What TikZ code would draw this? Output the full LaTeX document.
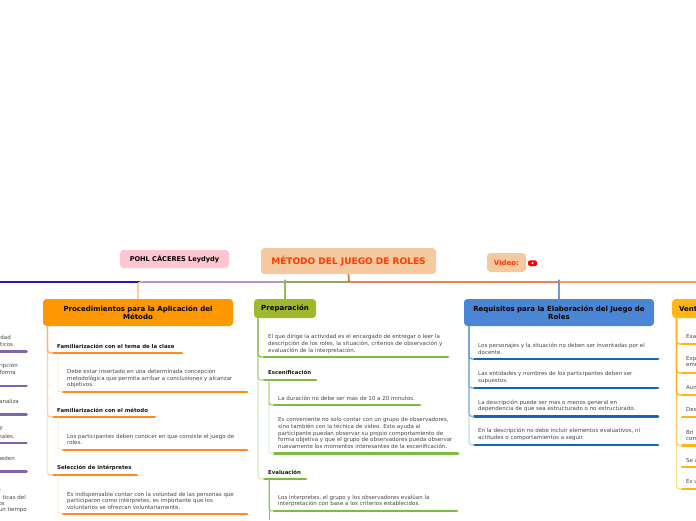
\documentclass[tikz,border=0pt]{standalone}
\usepackage{fontspec}
\setmainfont{DejaVu Sans}
\definecolor{ttl}{HTML}{F5C9A0}
\definecolor{ttxt}{HTML}{FF3D00}
\definecolor{pinkb}{HTML}{FFC6D2}
\definecolor{orgb}{HTML}{FF9800}
\definecolor{orgt}{HTML}{FFB266}
\definecolor{orgp}{HTML}{FFE0C2}
\definecolor{orgbar}{HTML}{FF8C1A}
\definecolor{grnb}{HTML}{A0B82E}
\definecolor{grnt}{HTML}{8CC152}
\definecolor{grnp}{HTML}{D5EABD}
\definecolor{grnbar}{HTML}{7DBB42}
\definecolor{blub}{HTML}{4A86D4}
\definecolor{blut}{HTML}{6C9BD2}
\definecolor{blup}{HTML}{C5D8EE}
\definecolor{blubar}{HTML}{1565B0}
\definecolor{ambb}{HTML}{FFB514}
\definecolor{ambp}{HTML}{FFE08F}
\definecolor{purbar}{HTML}{7E65AE}
\tikzset{
  x=1pt,y=-1pt,
  txt/.style={anchor=west,align=left,inner sep=0pt,text=black!72,font=\fontsize{5.5}{6.55}\selectfont},
  frag/.style={anchor=east,inner sep=0pt,text=black!72,font=\fontsize{5.5}{6.55}\selectfont},
  lbl/.style={anchor=west,inner sep=0pt,text=black!90,font=\fontsize{5.4}{6.55}\selectfont\bfseries},
  hd/.style={rounded corners=3.5pt,inner sep=0pt,align=center,text=black,font=\fontsize{7}{8}\selectfont\bfseries},
  barl/.style={line width=2.6pt,line cap=round},
  stem/.style={line width=1.1pt,rounded corners=2.5pt},
  trunk/.style={line width=1.3pt,rounded corners=3pt},
  sub/.style={line width=.9pt,rounded corners=2.5pt},
}
\newcommand{\barline}[5]{\coordinate (#1a) at (#3,#5);\coordinate (#1b) at (#4,#5);\draw[barl,#2] (#1a) -- (#1b);}
\begin{document}
\begin{tikzpicture}
\useasboundingbox (0,0) rectangle (696,520);
\fill[white] (0,0) rectangle (696,520);
\begin{scope}
\clip (0,0) rectangle (696,520);
% main boxes
\node[hd,fill=ttl,minimum width=175pt,minimum height=26pt,text=ttxt,font=\fontsize{9}{10}\selectfont\bfseries] (main) at (348.5,261) {MÉTODO DEL JUEGO DE ROLES};
\node[hd,fill=pinkb,minimum width=109pt,minimum height=18pt,font=\fontsize{6.6}{8}\selectfont\bfseries] (pohl) at (174.5,259) {POHL CÁCERES Leydydy};
\node[hd,fill=ttl,minimum width=39pt,minimum height=19pt,text=ttxt] (video) at (506.5,262.5) {Video:};
\node[hd,fill=orgb,minimum width=190pt,minimum height=27pt] (proc) at (138,312.5) {Procedimientos para la Aplicación del\\Método};
\node[hd,fill=grnb,minimum width=62pt,minimum height=19pt] (prep) at (285,308.5) {Preparación};
\node[hd,fill=blub,minimum width=190pt,minimum height=27pt] (req) at (559,312.5) {Requisitos para la Elaboración del Juego de\\Roles};
\node[hd,fill=ambb,minimum width=62pt,minimum height=19pt,anchor=west,text width=48pt,align=left,inner xsep=7pt] (vent) at (672,308.5) {Vent};
% video icon
\fill[red,rounded corners=1.5pt] (528,260.3) rectangle (537,266);
\fill[white] (532.5,263.1) circle (1.1);
% main line
\coordinate (l0) at (0,282);
\coordinate (l1) at (140,282);
\coordinate (l2) at (285,282);
\coordinate (l3) at (349,282);
\coordinate (l4) at (559,282);
\coordinate (l5) at (696,282);
\draw[line width=1.1pt,color={rgb,255:red,40;green,20;blue,190}] (l0) -- (l1);
\draw[line width=1.1pt,color={rgb,255:red,176;green,150;blue,200}] (l1) -- (l2);
\draw[line width=1.1pt,color={rgb,255:red,150;green,165;blue,100}] (l2) -- (l3);
\draw[line width=1.1pt,color={rgb,255:red,228;green,130;blue,80}] (l3) -- (l4);
\draw[line width=1.1pt,color={rgb,255:red,240;green,160;blue,100}] (l4) -- (l5);
\draw[line width=1.8pt,color={rgb,255:red,205;green,125;blue,60}] (main.south) -- (l3);
\draw[stem,orgt] (l1) -| (proc.north);
\draw[stem,grnt] (l2) -| (prep.north);
\draw[stem,blut] (l4) -| (req.north);
% ---- left fragments
\barline{pa}{purbar}{-3}{26.5}{351.5}
\barline{pb}{purbar}{-3}{26.5}{386}
\barline{pc}{purbar}{-3}{26.5}{414.5}
\barline{pd}{purbar}{-3}{26.5}{443}
\barline{pe}{purbar}{-3}{26.5}{471.5}
\node[frag] (fa1) at (11,337) {dad};
\node[frag] (fa2) at (15,344) {ticos.};
\node[frag] (fb1) at (18,366) {ripción};
\node[frag] (fb2) at (16,372.5) {forma};
\node[frag] (fc) at (19,401) {analiza};
\node[frag] (fd1) at (3,429) {y};
\node[frag] (fd2) at (15,436) {nales.};
\node[frag] (fe) at (15,458) {ueden};
\node[frag] (ff1) at (1,490) {o};
\node[frag] (ff2) at (26,497) {ticas del};
\node[frag] (ff3) at (5,503.5) {os};
\node[frag] (ff4) at (27,510) {un tiempo};
% ---- procedimientos
\barline{oa}{orgbar}{53}{182}{353}
\barline{ob}{orgbar}{63}{247}{392}
\barline{oc}{orgbar}{53}{155}{417}
\barline{od}{orgbar}{63}{247}{450}
\barline{oe}{orgbar}{53}{137}{475}
\barline{og}{orgbar}{63}{247}{514}
\coordinate (ot) at ([xshift=-90.5pt]proc.south);
\draw[trunk,orgp] (ot) |- (oea);
\draw[trunk,orgp!70!orgt] (ot) |- (oca);
\draw[trunk,orgt] (ot) |- (oaa);
\coordinate (oa0) at ([xshift=5pt]oaa);
\coordinate (oc0) at ([xshift=5pt]oca);
\coordinate (oe0) at ([xshift=5pt]oea);
\draw[sub,orgp] (oa0) |- (oba);
\draw[sub,orgp] (oc0) |- (oda);
\draw[sub,orgp] (oe0) |- (oga);
\node[lbl] (o1) at (57,346) {Familiarización con el tema de la clase};
\node[txt] (o2) at (67,378.5) {Debe estar insertado en una determinada concepción\\metodológica que permita arribar a conclusiones y alcanzar\\objetivos.};
\node[lbl] (o3) at (57,410) {Familiarización con el método};
\node[txt] (o4) at (67,439.5) {Los participantes deben conocer en que consiste el juego de\\roles.};
\node[lbl] (o5) at (57,468) {Selección de intérpretes};
\node[txt] (o6) at (67,500.5) {Es indispensable contar con la voluntad de las personas que\\participaron como intérpretes, es importante que los\\voluntarios se ofrezcan voluntariamente.};
% ---- preparacion
\barline{ga}{grnbar}{264}{448}{357}
\barline{gb}{grnbar}{264}{316}{380}
\barline{gc}{grnbar}{274}{420}{405}
\barline{gd}{grnbar}{274}{458}{453.5}
\barline{ge}{grnbar}{264}{306}{479}
\barline{gf}{grnbar}{274}{457}{511}
\coordinate (gt) at ([xshift=-27pt]prep.south);
\coordinate (gb0) at ([xshift=5pt]gba);
\coordinate (ge0) at ([xshift=5pt]gea);
\coordinate (gend) at ([xshift=5pt,yshift=-41pt]gea);
\draw[trunk,grnp] (gt) |- (gea);
\draw[trunk,grnt!65!white] (gt) |- (gba);
\draw[trunk,grnt] (gt) |- (gaa);
\draw[sub,grnp] (gb0) |- (gda);
\draw[sub,grnt] (gb0) |- (gca);
\draw[sub,grnt] (ge0) -- (gend);
\draw[sub,grnt] (ge0) |- (gfa);
\node[txt] (g1) at (268,344) {El que dirige la actividad es el encargado de entregar o leer la\\descripción de los roles, la situación, criterios de observación y\\evaluación de la interpretación.};
\node[lbl] (g2) at (268,372) {Escenificación};
\node[txt] (g3) at (278,398) {La duración no debe ser mas de 10 a 20 minutos.};
\node[txt] (g4) at (278,433) {Es conveniente no solo contar con un grupo de observadores,\\sino también con la técnica de video. Esto ayuda al\\participante  puedan observar su propio comportamiento de\\forma objetiva y que el grupo de observadores pueda observar\\nuevamente los momentos interesantes de la escenificación.};
\node[lbl] (g5) at (268,472) {Evaluación};
\node[txt] (g6) at (278,501) {Los interpretes, el grupo y los observadores evalúan la\\interpretación con base a los criterios establecidos.};
% ---- requisitos
\barline{ba}{blubar}{474}{658}{359}
\barline{bb}{blubar}{474}{658}{388}
\barline{bc}{blubar}{474}{658}{416.5}
\barline{bd}{blubar}{474}{658}{445}
\coordinate (bt) at ([xshift=-90pt]req.south);
\draw[trunk,blup] (bt) |- (bda);
\draw[trunk,blut!80!white] (bt) |- (bca);
\draw[trunk,blut!80!white] (bt) |- (bba);
\draw[trunk,blut] (bt) |- (baa);
\node[txt] (b1) at (478,349) {Los personajes y la situación no deben ser inventadas por el\\docente.};
\node[txt] (b2) at (478,377.5) {Las entidades y nombres de los participantes deben ser\\supuestos.};
\node[txt] (b3) at (478,406) {La descripción puede ser mas o menos general en\\dependencia de que sea estructurado o no estructurado.};
\node[txt] (b4) at (478,434.5) {En la descripción no debe incluir elementos evaluativos, ni\\actitudes o comportamientos a seguir.};
% ---- ventajas
\barline{va}{ambb}{682}{700}{344}
\barline{vb}{ambb}{682}{700}{373}
\barline{vc}{ambb}{682}{700}{395}
\barline{vd}{ambb}{682}{700}{417}
\barline{ve}{ambb}{682}{700}{445.5}
\barline{vf}{ambb}{682}{700}{467}
\barline{vg}{ambb}{682}{700}{489}
\coordinate (vt) at ([xshift=4.5pt]vent.south west);
\draw[trunk,ambp] (vt) |- (vga);
\draw[trunk,ambb!70!white] (vt) |- (vea);
\draw[trunk,ambb] (vt) |- (vca);
\draw[trunk,ambb] (vt) |- (vba);
\draw[trunk,ambb] (vt) |- (vaa);
\node[txt] (v1) at (686,337) {Exa};
\node[txt] (v2) at (686,361.5) {Exp\\emo};
\node[txt] (v3) at (686,388) {Aun};
\node[txt] (v4) at (686,410) {Des};
\node[txt] (v5) at (686,435.5) {Bri\\com};
\node[txt] (v6) at (686,460) {Se a};
\node[txt] (v7) at (686,482) {Es u};
\end{scope}
\end{tikzpicture}
\end{document}
